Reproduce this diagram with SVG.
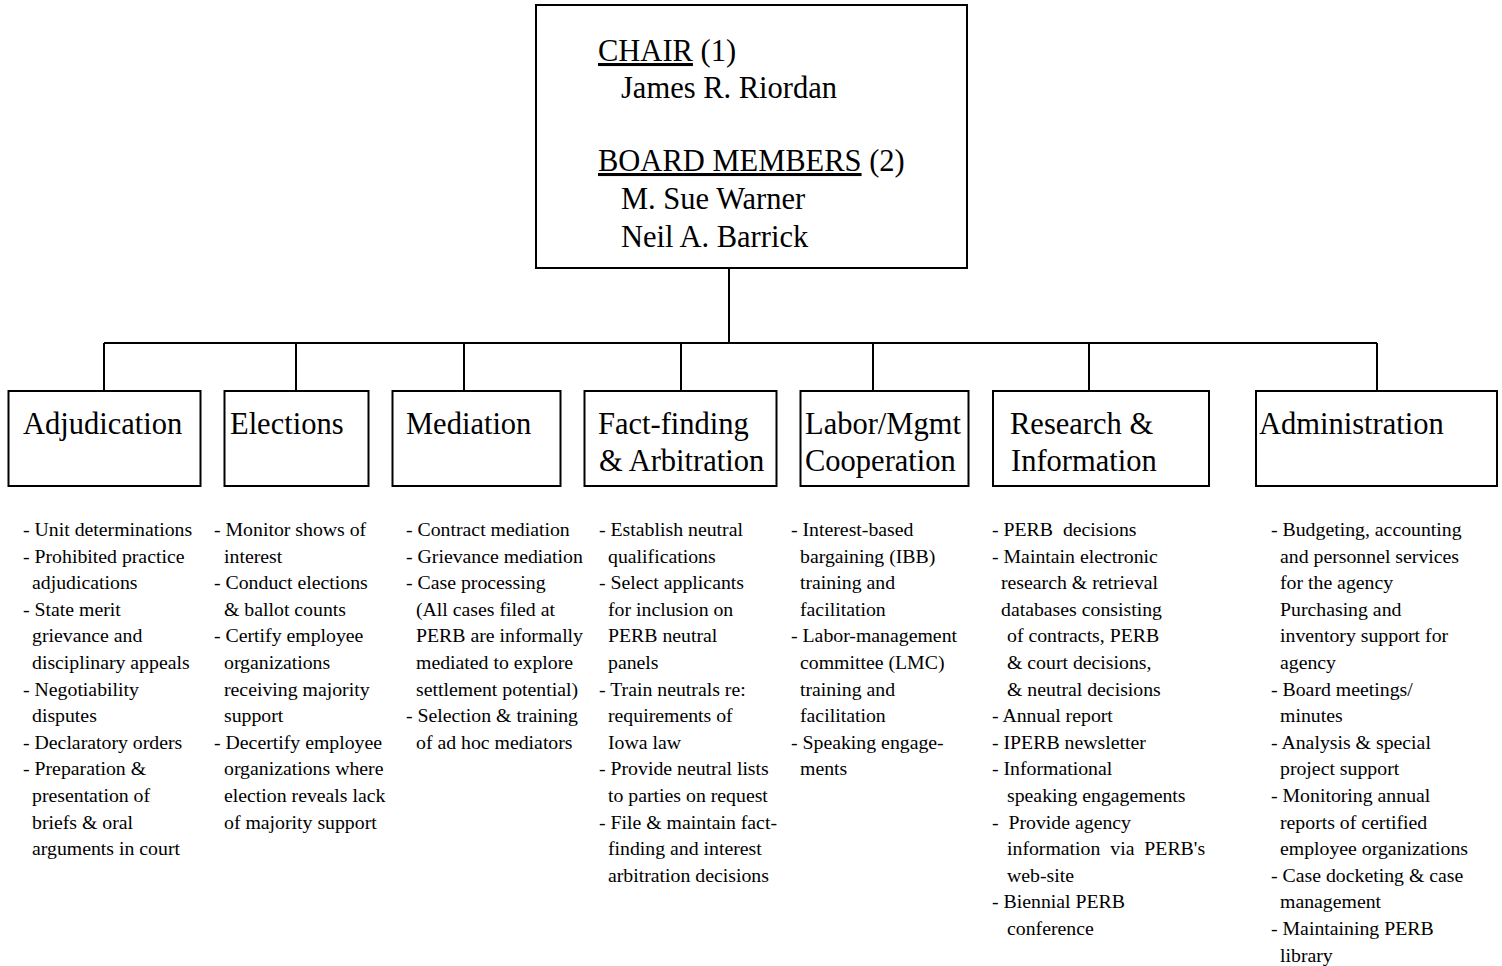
<svg xmlns="http://www.w3.org/2000/svg" width="1502" height="966" viewBox="0 0 1502 966">
<style>
.box{fill:#fff;stroke:#000;stroke-width:2}
.conn{fill:none;stroke:#000;stroke-width:2}
.big{font-family:"Liberation Serif","Times New Roman",serif;font-size:30.5px;fill:#000}
.sm{font-family:"Liberation Serif","Times New Roman",serif;font-size:19.8px;fill:#000;white-space:pre}
.u{text-decoration:underline}
</style>
<rect width="1502" height="966" fill="#fff"/>
<g id="connectors">
<path class="conn" d="M729 268V343M104 343H1377M104 343V391M296 343V391M464 343V391M681 343V391M873 343V391M1089 343V391M1377 343V391"/>
</g>
<g id="board">
<rect class="box" x="536" y="5" width="431" height="263"/>
<text class="big" x="598" y="61"><tspan class="u">CHAIR</tspan> (1)</text>
<text class="big" x="621" y="98">James R. Riordan</text>
<text class="big" x="598" y="171"><tspan class="u">BOARD MEMBERS</tspan> (2)</text>
<text class="big" x="621" y="209">M. Sue Warner</text>
<text class="big" x="621" y="247">Neil A. Barrick</text>
</g>
<g id="adjudication">
<rect class="box" x="8.5" y="391" width="192" height="95"/>
<text class="big" x="23" y="434">Adjudication</text>
<text class="sm"><tspan x="23" y="536">- Unit determinations</tspan><tspan x="23" y="562.6">- Prohibited practice</tspan><tspan x="32" y="589.2">adjudications</tspan><tspan x="23" y="615.8">- State merit</tspan><tspan x="32" y="642.4">grievance and</tspan><tspan x="32" y="669">disciplinary appeals</tspan><tspan x="23" y="695.6">- Negotiability</tspan><tspan x="32" y="722.2">disputes</tspan><tspan x="23" y="748.8">- Declaratory orders</tspan><tspan x="23" y="775.4">- Preparation &amp;</tspan><tspan x="32" y="802">presentation of</tspan><tspan x="32" y="828.6">briefs &amp; oral</tspan><tspan x="32" y="855.2">arguments in court</tspan></text>
</g>
<g id="elections">
<rect class="box" x="224.5" y="391" width="144" height="95"/>
<text class="big" x="230" y="434">Elections</text>
<text class="sm"><tspan x="214" y="536">- Monitor shows of</tspan><tspan x="224" y="562.6">interest</tspan><tspan x="214" y="589.2">- Conduct elections</tspan><tspan x="224" y="615.8">&amp; ballot counts</tspan><tspan x="214" y="642.4">- Certify employee</tspan><tspan x="224" y="669">organizations</tspan><tspan x="224" y="695.6">receiving majority</tspan><tspan x="224" y="722.2">support</tspan><tspan x="214" y="748.8">- Decertify employee</tspan><tspan x="224" y="775.4">organizations where</tspan><tspan x="224" y="802">election reveals lack</tspan><tspan x="224" y="828.6">of majority support</tspan></text>
</g>
<g id="mediation">
<rect class="box" x="392.5" y="391" width="168" height="95"/>
<text class="big" x="406" y="434">Mediation</text>
<text class="sm"><tspan x="406" y="536">- Contract mediation</tspan><tspan x="406" y="562.6">- Grievance mediation</tspan><tspan x="406" y="589.2">- Case processing</tspan><tspan x="416" y="615.8">(All cases filed at</tspan><tspan x="416" y="642.4">PERB are informally</tspan><tspan x="416" y="669">mediated to explore</tspan><tspan x="416" y="695.6">settlement potential)</tspan><tspan x="406" y="722.2">- Selection &amp; training</tspan><tspan x="416" y="748.8">of ad hoc mediators</tspan></text>
</g>
<g id="factfinding">
<rect class="box" x="584.5" y="391" width="192" height="95"/>
<text class="big" x="598" y="434">Fact-finding</text>
<text class="big" x="599" y="471">&amp; Arbitration</text>
<text class="sm"><tspan x="599" y="536">- Establish neutral</tspan><tspan x="608" y="562.6">qualifications</tspan><tspan x="599" y="589.2">- Select applicants</tspan><tspan x="608" y="615.8">for inclusion on</tspan><tspan x="608" y="642.4">PERB neutral</tspan><tspan x="608" y="669">panels</tspan><tspan x="599" y="695.6">- Train neutrals re:</tspan><tspan x="608" y="722.2">requirements of</tspan><tspan x="608" y="748.8">Iowa law</tspan><tspan x="599" y="775.4">- Provide neutral lists</tspan><tspan x="608" y="802">to parties on request</tspan><tspan x="599" y="828.6">- File &amp; maintain fact-</tspan><tspan x="608" y="855.2">finding and interest</tspan><tspan x="608" y="881.8">arbitration decisions</tspan></text>
</g>
<g id="labormgmt">
<rect class="box" x="800.5" y="391" width="168" height="95"/>
<text class="big" x="805" y="434">Labor/Mgmt</text>
<text class="big" x="805" y="471">Cooperation</text>
<text class="sm"><tspan x="791" y="536">- Interest-based</tspan><tspan x="800" y="562.6">bargaining (IBB)</tspan><tspan x="800" y="589.2">training and</tspan><tspan x="800" y="615.8">facilitation</tspan><tspan x="791" y="642.4">- Labor-management</tspan><tspan x="800" y="669">committee (LMC)</tspan><tspan x="800" y="695.6">training and</tspan><tspan x="800" y="722.2">facilitation</tspan><tspan x="791" y="748.8">- Speaking engage-</tspan><tspan x="800" y="775.4">ments</tspan></text>
</g>
<g id="research">
<rect class="box" x="993" y="391" width="216" height="95"/>
<text class="big" x="1010" y="434">Research &amp;</text>
<text class="big" x="1011" y="471">Information</text>
<text class="sm"><tspan x="992" y="536">- PERB  decisions</tspan><tspan x="992" y="562.6">- Maintain electronic</tspan><tspan x="1001" y="589.2">research &amp; retrieval</tspan><tspan x="1001" y="615.8">databases consisting</tspan><tspan x="1007" y="642.4">of contracts, PERB</tspan><tspan x="1007" y="669">&amp; court decisions,</tspan><tspan x="1007" y="695.6">&amp; neutral decisions</tspan><tspan x="992" y="722.2">- Annual report</tspan><tspan x="992" y="748.8">- IPERB newsletter</tspan><tspan x="992" y="775.4">- Informational</tspan><tspan x="1007" y="802">speaking engagements</tspan><tspan x="992" y="828.6">-  Provide agency</tspan><tspan x="1007" y="855.2">information  via  PERB's</tspan><tspan x="1007" y="881.8">web-site</tspan><tspan x="992" y="908.4">- Biennial PERB</tspan><tspan x="1007" y="935">conference</tspan></text>
</g>
<g id="administration">
<rect class="box" x="1256" y="391" width="241" height="95"/>
<text class="big" x="1259" y="434">Administration</text>
<text class="sm"><tspan x="1271" y="536">- Budgeting, accounting</tspan><tspan x="1280" y="562.6">and personnel services</tspan><tspan x="1280" y="589.2">for the agency</tspan><tspan x="1280" y="615.8">Purchasing and</tspan><tspan x="1280" y="642.4">inventory support for</tspan><tspan x="1280" y="669">agency</tspan><tspan x="1271" y="695.6">- Board meetings/</tspan><tspan x="1280" y="722.2">minutes</tspan><tspan x="1271" y="748.8">- Analysis &amp; special</tspan><tspan x="1280" y="775.4">project support</tspan><tspan x="1271" y="802">- Monitoring annual</tspan><tspan x="1280" y="828.6">reports of certified</tspan><tspan x="1280" y="855.2">employee organizations</tspan><tspan x="1271" y="881.8">- Case docketing &amp; case</tspan><tspan x="1280" y="908.4">management</tspan><tspan x="1271" y="935">- Maintaining PERB</tspan><tspan x="1280" y="961.6">library</tspan></text>
</g>
</svg>
